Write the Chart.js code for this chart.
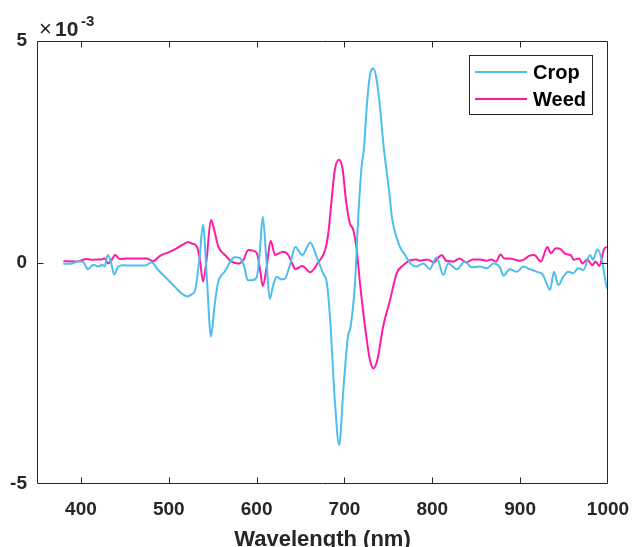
<!DOCTYPE html>
<html>
<head>
<meta charset="utf-8">
<script src="https://cdn.jsdelivr.net/npm/chart.js@4"></script>
<style>
html,body{margin:0;padding:0;background:#fff;}
#wrap{width:632px;height:547px;}
</style>
</head>
<body>
<div id="wrap"><canvas id="c" width="632" height="547"></canvas></div>
<script>
// Wavelengths (nm) and values (in units of 1e-3)
const cropWl = [380,384,392,397,403,408,414,420,424,427,430.5,434,438,442.5,448,460,473,480.5,488,497.6,507,514.7,521,526,530,535,539,543.5,548,552,556,564,570,575,581,586,590,595,600,603.5,607,611,615,619,623,628,632,638,644,652,661,668,675.5,680,683.5,689,694,698.7,704,707,712,715.7,719.5,722,726,729,733,736,739.6,745,750.7,754,763,769,775,782,790,797,805,812.5,818,828,837,845,854,862,869.5,877,881,888,896,904,911,919,926,930,934,938.5,943.5,949,955,960.5,966,972,979.5,983,988,993,998.5,1000];
const cropVal = [-0.03,-0.03,-0.01,0.03,0,-0.15,-0.05,-0.09,-0.05,-0.09,0.17,0.02,-0.27,-0.09,-0.06,-0.07,-0.07,0,-0.17,-0.36,-0.55,-0.7,-0.77,-0.72,-0.62,0.1,0.85,-0.4,-1.67,-1.0,-0.46,-0.2,0.02,0.12,0.1,-0.1,-0.4,-0.4,-0.34,0.2,1.03,0.1,-0.82,-0.5,-0.32,-0.38,-0.37,-0.05,0.35,0.17,0.45,0.15,-0.24,-0.47,-1.22,-3.1,-4.12,-2.88,-1.67,-1.45,-0.46,1.03,2.16,2.54,3.67,4.23,4.38,4.2,3.67,2.54,1.64,1.03,0.36,0.17,-0.02,-0.09,-0.02,-0.15,0.12,-0.28,-0.02,-0.15,0.02,-0.11,-0.09,-0.13,-0.02,-0.11,-0.30,-0.15,-0.21,-0.09,-0.15,-0.21,-0.28,-0.47,-0.62,-0.21,-0.51,-0.32,-0.21,-0.24,-0.13,-0.17,0.17,0.06,0.30,0.06,-0.55,-0.6];

const weedWl = [380,396,406.5,412,418,424,427,431,435,439,444,452,464,475,482,490,501,509,516.5,522,526,532,535.5,539,543,548,552.6,556.4,564,571.6,579,585,590.5,600,604,607,611.5,616,621,630,636,642,644,652,661,670,678,681.6,685.4,689,694,698,701.7,706,710,714,717.7,723.4,729,733,737.4,744,752,759.5,767,772.6,778,782,786,794.6,802,806,810.5,816,823.6,831,838.7,846,854,861.5,867,872.6,877.6,882,888,893,899,904.6,910,916,923.6,931,935,940.5,946,952,957.5,961,967,971,976.5,982,986,990,996,1000];
const weedVal = [0.03,0.02,0.08,0.06,0.07,0.07,0.09,-0.02,0.06,0.17,0.08,0.09,0.09,0.09,0.03,0.15,0.24,0.32,0.41,0.46,0.43,0.36,0.06,-0.43,0.06,0.96,0.66,0.36,0.17,0.02,-0.02,0.06,0.28,0.22,-0.17,-0.53,-0.09,0.49,0.17,0.24,0.17,-0.09,-0.15,-0.08,-0.22,0,0.28,0.66,1.41,2.09,2.32,2.09,1.41,0.89,0.74,0.28,-0.47,-1.45,-2.2,-2.39,-2.2,-1.45,-0.84,-0.24,-0.06,0.03,0.06,0.07,0.04,0.07,0,0.09,0.17,0.04,0.02,0.09,0,0.07,0.07,0.04,0.07,0.02,0.18,0.09,0.09,0.07,0.04,0.07,0.15,0.17,0.02,0.35,0.21,0.32,0.30,0.19,0.17,0.06,0.09,-0.02,0.07,-0.06,0.02,-0.08,0.32,0.35];

const seriesNames = ['Crop','Weed'];
const xTicks = [400,500,600,700,800,900,1000];
const yTicks = [-5,0,5];
const yExponent = '-3';
const xTitle = 'Wavelength (nm)';

const FONT = '"Liberation Sans", Arial, Helvetica, sans-serif';
const AX = '#262626';
const C_CROP = '#4DBEEE';
const C_WEED = '#FF1AA3';

const toPts = (xs, ys) => xs.map((x, i) => ({x: x, y: ys[i]}));

const boxPlugin = {
  id: 'boxTicks',
  afterDatasetsDraw(chart) {
    const ctx = chart.ctx;
    const a = chart.chartArea;
    const xs = chart.scales.x, ys = chart.scales.y;
    ctx.save();
    ctx.strokeStyle = AX;
    ctx.lineWidth = 1;
    const L = Math.round(a.left) + 0.5, R = Math.round(a.right) - 0.5;
    const T = Math.round(a.top) + 0.5, B = Math.round(a.bottom) - 0.5;
    ctx.beginPath();
    ctx.rect(L, T, R - L, B - T);
    ctx.stroke();
    const tl = 6;
    ctx.beginPath();
    xTicks.forEach(v => {
      const px = Math.round(xs.getPixelForValue(v)) + 0.5;
      if (px > L + 1 && px < R - 1) {
        ctx.moveTo(px, B); ctx.lineTo(px, B - tl);
        ctx.moveTo(px, T); ctx.lineTo(px, T + tl);
      }
    });
    yTicks.forEach(v => {
      const py = Math.round(ys.getPixelForValue(v)) + 0.5;
      if (py > T + 1 && py < B - 1) {
        ctx.moveTo(L, py); ctx.lineTo(L + tl, py);
        ctx.moveTo(R, py); ctx.lineTo(R - tl, py);
      }
    });
    ctx.stroke();

    // exponent label
    ctx.fillStyle = AX;
    ctx.textBaseline = 'alphabetic';
    ctx.textAlign = 'left';
    ctx.font = '22px ' + FONT;
    ctx.fillText('\u00D7', 39, 36);
    ctx.font = 'bold 21px ' + FONT;
    ctx.fillText('10', 55, 36);
    ctx.font = 'bold 15px ' + FONT;
    ctx.fillText(yExponent, 81, 26);

    // legend
    const lx = 469.5, ly = 55.5, lw = 123, lh = 59;
    ctx.fillStyle = '#fff';
    ctx.fillRect(lx, ly, lw, lh);
    ctx.strokeStyle = AX;
    ctx.strokeRect(lx, ly, lw, lh);
    chart.data.datasets.forEach((ds, i) => {
      const yy = 72 + i * 27;
      ctx.strokeStyle = ds.borderColor;
      ctx.lineWidth = 2;
      ctx.beginPath();
      ctx.moveTo(475, yy); ctx.lineTo(527, yy);
      ctx.stroke();
      ctx.fillStyle = '#000';
      ctx.font = 'bold 20px ' + FONT;
      ctx.textBaseline = 'middle';
      ctx.fillText(ds.label, 533, yy + 1);
    });
    ctx.restore();
  }
};

new Chart(document.getElementById('c'), {
  type: 'line',
  data: {
    datasets: [
      {label: seriesNames[0], data: toPts(cropWl, cropVal), borderColor: C_CROP, borderWidth: 2, pointRadius: 0, cubicInterpolationMode: 'monotone', fill: false},
      {label: seriesNames[1], data: toPts(weedWl, weedVal), borderColor: C_WEED, borderWidth: 2, pointRadius: 0, cubicInterpolationMode: 'monotone', fill: false}
    ]
  },
  options: {
    responsive: false,
    animation: false,
    events: [],
    layout: {padding: {top: 41, right: 24, left: 0, bottom: 0}},
    plugins: {legend: {display: false}, tooltip: {enabled: false}},
    scales: {
      x: {
        type: 'linear', min: 350, max: 1000,
        afterBuildTicks: s => { s.ticks = xTicks.map(v => ({value: v})); },
        afterFit: s => { s.height = 63; s.paddingLeft = 0; s.paddingRight = 0; },
        grid: {display: false, drawTicks: false},
        border: {display: false},
        ticks: {padding: 14, color: AX, font: {family: FONT, size: 19, weight: 'bold'}, maxRotation: 0, autoSkip: false, callback: v => String(v)},
        title: {display: true, text: xTitle, color: AX, font: {family: FONT, size: 22, weight: 'bold', lineHeight: 1}, padding: {top: 0, bottom: -4}}
      },
      y: {
        type: 'linear', min: -5, max: 5,
        afterBuildTicks: s => { s.ticks = yTicks.map(v => ({value: v})); },
        afterFit: s => { s.width = 37; s.paddingTop = 0; s.paddingBottom = 0; },
        grid: {display: false, drawTicks: false},
        border: {display: false},
        ticks: {padding: 10, color: AX, font: {family: FONT, size: 19, weight: 'bold'}, callback: v => String(v)}
      }
    }
  },
  plugins: [boxPlugin]
});
</script>
</body>
</html>
